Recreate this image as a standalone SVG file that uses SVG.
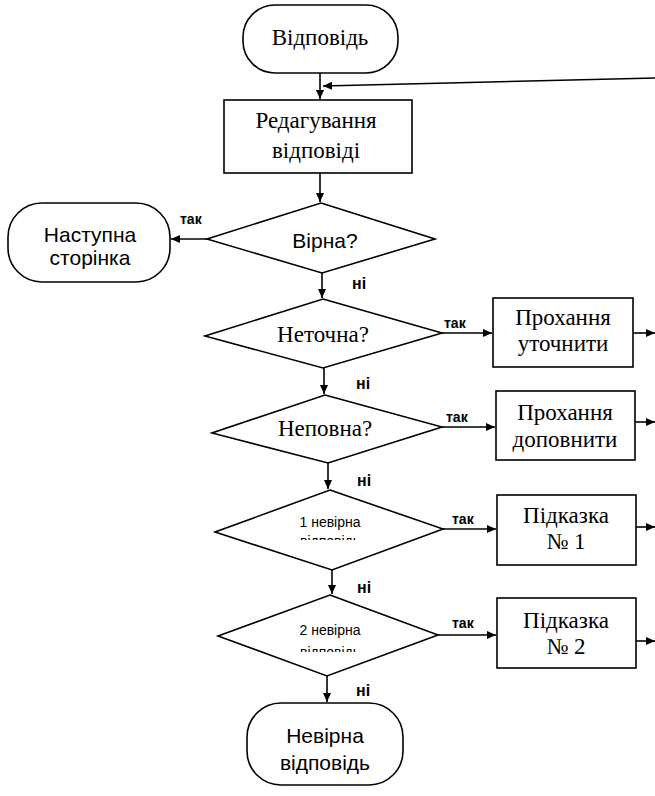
<svg xmlns="http://www.w3.org/2000/svg" width="655" height="796" viewBox="0 0 655 796">
<defs>
<marker id="ah" markerWidth="10" markerHeight="10" refX="9" refY="5" orient="auto" markerUnits="userSpaceOnUse">
<path d="M0,1 L9,5 L0,9 Z" fill="#000"/>
</marker>
<clipPath id="c1"><rect x="200" y="480" width="260" height="60"/></clipPath>
<clipPath id="c2"><rect x="200" y="590" width="260" height="62"/></clipPath>
</defs>
<style>
.sh{fill:#fff;stroke:#000;stroke-width:1.6}
.ln{fill:none;stroke:#000;stroke-width:1.6;marker-end:url(#ah)}
.tm{font-family:"Liberation Serif","DejaVu Serif",serif;font-size:23px;text-anchor:middle;fill:#000}
.sa{font-family:"Liberation Sans","DejaVu Sans",sans-serif;font-size:21px;text-anchor:middle;fill:#000}
.lb{font-family:"Liberation Sans","DejaVu Sans",sans-serif;font-size:14px;font-weight:bold;fill:#000}
.ni{font-family:"Liberation Sans","DejaVu Sans",sans-serif;font-size:16px;font-weight:bold;fill:#000}
.sm{font-family:"Liberation Sans","DejaVu Sans",sans-serif;font-size:14px;text-anchor:middle;fill:#000}
</style>
<rect width="655" height="796" fill="#fff"/>
<g id="connectors">
<line class="ln" x1="320" y1="73" x2="320" y2="99"/>
<path class="ln" d="M655,78 L323,86"/>
<line class="ln" x1="320" y1="173" x2="320" y2="202"/>
<line class="ln" x1="207" y1="239" x2="171" y2="239"/>
<line class="ln" x1="322" y1="273" x2="322" y2="298"/>
<line class="ln" x1="442" y1="333" x2="492" y2="333"/>
<line class="ln" x1="633" y1="333" x2="655" y2="333"/>
<line class="ln" x1="324" y1="368" x2="324" y2="394"/>
<line class="ln" x1="442" y1="427" x2="495" y2="427"/>
<line class="ln" x1="635" y1="422" x2="655" y2="422"/>
<line class="ln" x1="328" y1="463" x2="328" y2="489"/>
<line class="ln" x1="443" y1="529" x2="496" y2="529"/>
<line class="ln" x1="636" y1="527" x2="655" y2="527"/>
<line class="ln" x1="332" y1="570" x2="332" y2="594"/>
<line class="ln" x1="438" y1="635" x2="496" y2="635"/>
<line class="ln" x1="636" y1="641" x2="655" y2="641"/>
<line class="ln" x1="327" y1="676" x2="327" y2="702"/>
<text class="lb" x="180" y="224">так</text>
<text class="ni" x="352" y="289">ні</text>
<text class="lb" x="444" y="328">так</text>
<text class="ni" x="356" y="389">ні</text>
<text class="lb" x="446" y="422">так</text>
<text class="ni" x="357" y="486">ні</text>
<text class="lb" x="452" y="524">так</text>
<text class="ni" x="357" y="593">ні</text>
<text class="lb" x="452" y="628">так</text>
<text class="ni" x="356" y="696">ні</text>
</g>
<g id="start">
<rect class="sh" x="243" y="5" width="155" height="68" rx="32" ry="32"/>
<text class="tm" x="320" y="45">Відповідь</text>
</g>
<g id="edit">
<rect class="sh" x="224" y="100" width="188" height="73"/>
<text class="tm" x="316" y="128">Редагування</text>
<text class="tm" x="316" y="158">відповіді</text>
</g>
<g id="correct">
<polygon class="sh" points="321,203 435,239 322,273 207,239"/>
<text class="sa" x="325" y="248">Вірна?</text>
</g>
<g id="next">
<rect class="sh" x="8" y="203" width="162" height="79" rx="34" ry="34"/>
<text class="sa" x="90" y="242">Наступна</text>
<text class="sa" x="90" y="265">сторінка</text>
</g>
<g id="inexact">
<polygon class="sh" points="323,299 442,333 323,368 205,336"/>
<text class="tm" x="323" y="342">Неточна?</text>
</g>
<g id="clarify">
<rect class="sh" x="493" y="298" width="140" height="69"/>
<text class="tm" x="563" y="325">Прохання</text>
<text class="tm" x="563" y="351">уточнити</text>
</g>
<g id="incomplete">
<polygon class="sh" points="325,395 442,427 328,463 212,433"/>
<text class="tm" x="325" y="436">Неповна?</text>
</g>
<g id="complete">
<rect class="sh" x="496" y="391" width="139" height="69"/>
<text class="tm" x="565" y="420">Прохання</text>
<text class="tm" x="565" y="447">доповнити</text>
</g>
<g id="wrong1">
<polygon class="sh" points="330,490 443,529 332,570 215,532"/>
<text class="sm" x="330" y="527">1 невірна</text>
<text class="sm" x="330" y="546" clip-path="url(#c1)">відповідь</text>
</g>
<g id="hint1">
<rect class="sh" x="497" y="495" width="139" height="70"/>
<text class="tm" x="566" y="523">Підказка</text>
<text class="tm" x="566" y="549">№ 1</text>
</g>
<g id="wrong2">
<polygon class="sh" points="330,595 438,635 327,676 218,636"/>
<text class="sm" x="330" y="635">2 невірна</text>
<text class="sm" x="330" y="657" clip-path="url(#c2)">відповідь</text>
</g>
<g id="hint2">
<rect class="sh" x="497" y="598" width="139" height="70"/>
<text class="tm" x="566" y="628">Підказка</text>
<text class="tm" x="566" y="654">№ 2</text>
</g>
<g id="wrong">
<rect class="sh" x="247" y="703" width="156" height="82" rx="34" ry="34"/>
<text class="sa" x="325" y="743">Невірна</text>
<text class="sa" x="325" y="770">відповідь</text>
</g>
</svg>
